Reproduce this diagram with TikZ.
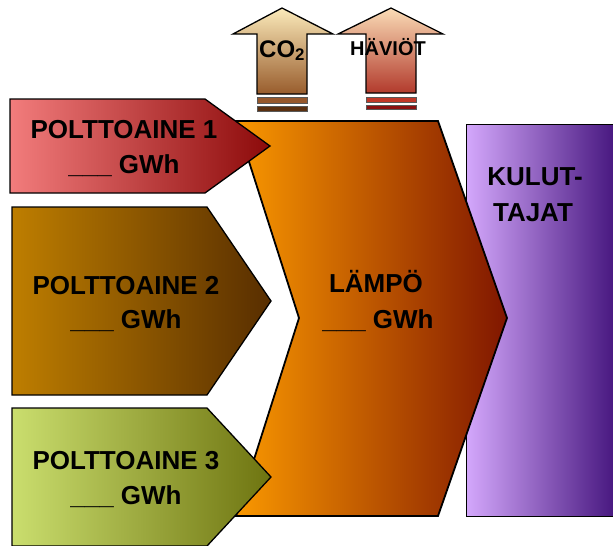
\documentclass[tikz,border=0pt]{standalone}
\usepackage{fontspec}
\setmainfont{Liberation Sans}
\definecolor{redL}{RGB}{242,124,124}
\definecolor{redR}{RGB}{140,10,10}
\definecolor{brnL}{RGB}{190,126,0}
\definecolor{brnR}{RGB}{88,46,0}
\definecolor{grnL}{RGB}{202,222,110}
\definecolor{grnR}{RGB}{110,116,16}
\definecolor{orgL}{RGB}{250,152,0}
\definecolor{orgM}{RGB}{205,104,0}
\definecolor{orgR}{RGB}{128,22,0}
\definecolor{purL}{RGB}{212,168,252}
\definecolor{purR}{RGB}{72,24,128}
\definecolor{coT}{RGB}{251,234,186}
\definecolor{coB}{RGB}{152,92,44}
\definecolor{coS}{RGB}{150,88,44}
\definecolor{coS2}{RGB}{90,48,16}
\definecolor{hvT}{RGB}{250,220,182}
\definecolor{hvB}{RGB}{178,58,44}
\definecolor{hvS}{RGB}{192,56,40}
\definecolor{hvS2}{RGB}{140,16,16}
\begin{document}
\begin{tikzpicture}[x=1pt,y=-1pt,
  outl/.style={draw=black, line width=1.3pt, line join=miter},
  stripe/.style={draw=black!65, line width=1pt},
  lbl/.style={font=\bfseries\fontsize{26}{30}\selectfont, anchor=base, inner sep=0pt}]
\useasboundingbox (0,0) rectangle (613,546);
% consumers
\path[outl, line width=1pt, left color=purL, right color=purR] (466,124) rectangle (614,516);
% main chevron
\path[outl, line width=1.8pt, left color=orgL, middle color=orgM, right color=orgR]
  (236,121) -- (438,121) -- (507,318) -- (438,516) -- (236,516) -- (299,318) -- cycle;
% inputs
\path[outl, left color=redL, right color=redR]
  (10,99) -- (205,99) -- (270,146) -- (205,193) -- (10,193) -- cycle;
\path[outl, left color=brnL, right color=brnR]
  (12,207) -- (207,207) -- (271,301) -- (207,395) -- (12,395) -- cycle;
\path[outl, left color=grnL, right color=grnR]
  (12,408) -- (207,408) -- (271,477) -- (207,546) -- (12,546) -- cycle;
% CO2 arrow
\path[outl, top color=coT, bottom color=coB]
  (282,8) -- (333,34) -- (307,34) -- (307,94) -- (257,94) -- (257,34) -- (233,34) -- cycle;
\path[stripe, fill=coS] (257,97) rectangle (307,103);
\path[stripe, fill=coS2] (257,106) rectangle (307,111);
% losses arrow
\path[outl, top color=hvT, bottom color=hvB]
  (391,8) -- (443,34) -- (416,34) -- (416,93) -- (366,93) -- (366,34) -- (338,34) -- cycle;
\path[stripe, fill=hvS] (366,97) rectangle (416,102);
\path[stripe, fill=hvS2] (366,105) rectangle (416,109);
% texts
\node[lbl, font=\bfseries\fontsize{24}{28}\selectfont, anchor=base west] (co2) at (259,57) {CO\textsubscript{2}};
\node[lbl, font=\bfseries\fontsize{20}{24}\selectfont] (hv) at (388,55) {HÄVIÖT};
\node[lbl] (p1a) at (124,138) {POLTTOAINE 1};
\node[lbl] (p1b) at (124,173) {\_\_\_ GWh};
\node[lbl] (p2a) at (126,294) {POLTTOAINE 2};
\node[lbl] (p2b) at (126,328) {\_\_\_ GWh};
\node[lbl] (p3a) at (126,469) {POLTTOAINE 3};
\node[lbl] (p3b) at (126,504) {\_\_\_ GWh};
\node[lbl] (la) at (376,292) {LÄMPÖ};
\node[lbl] (lb) at (378,328) {\_\_\_ GWh};
\node[lbl] (ka) at (535,185) {KULUT-};
\node[lbl] (kb) at (533,221) {TAJAT};
\end{tikzpicture}
\end{document}
